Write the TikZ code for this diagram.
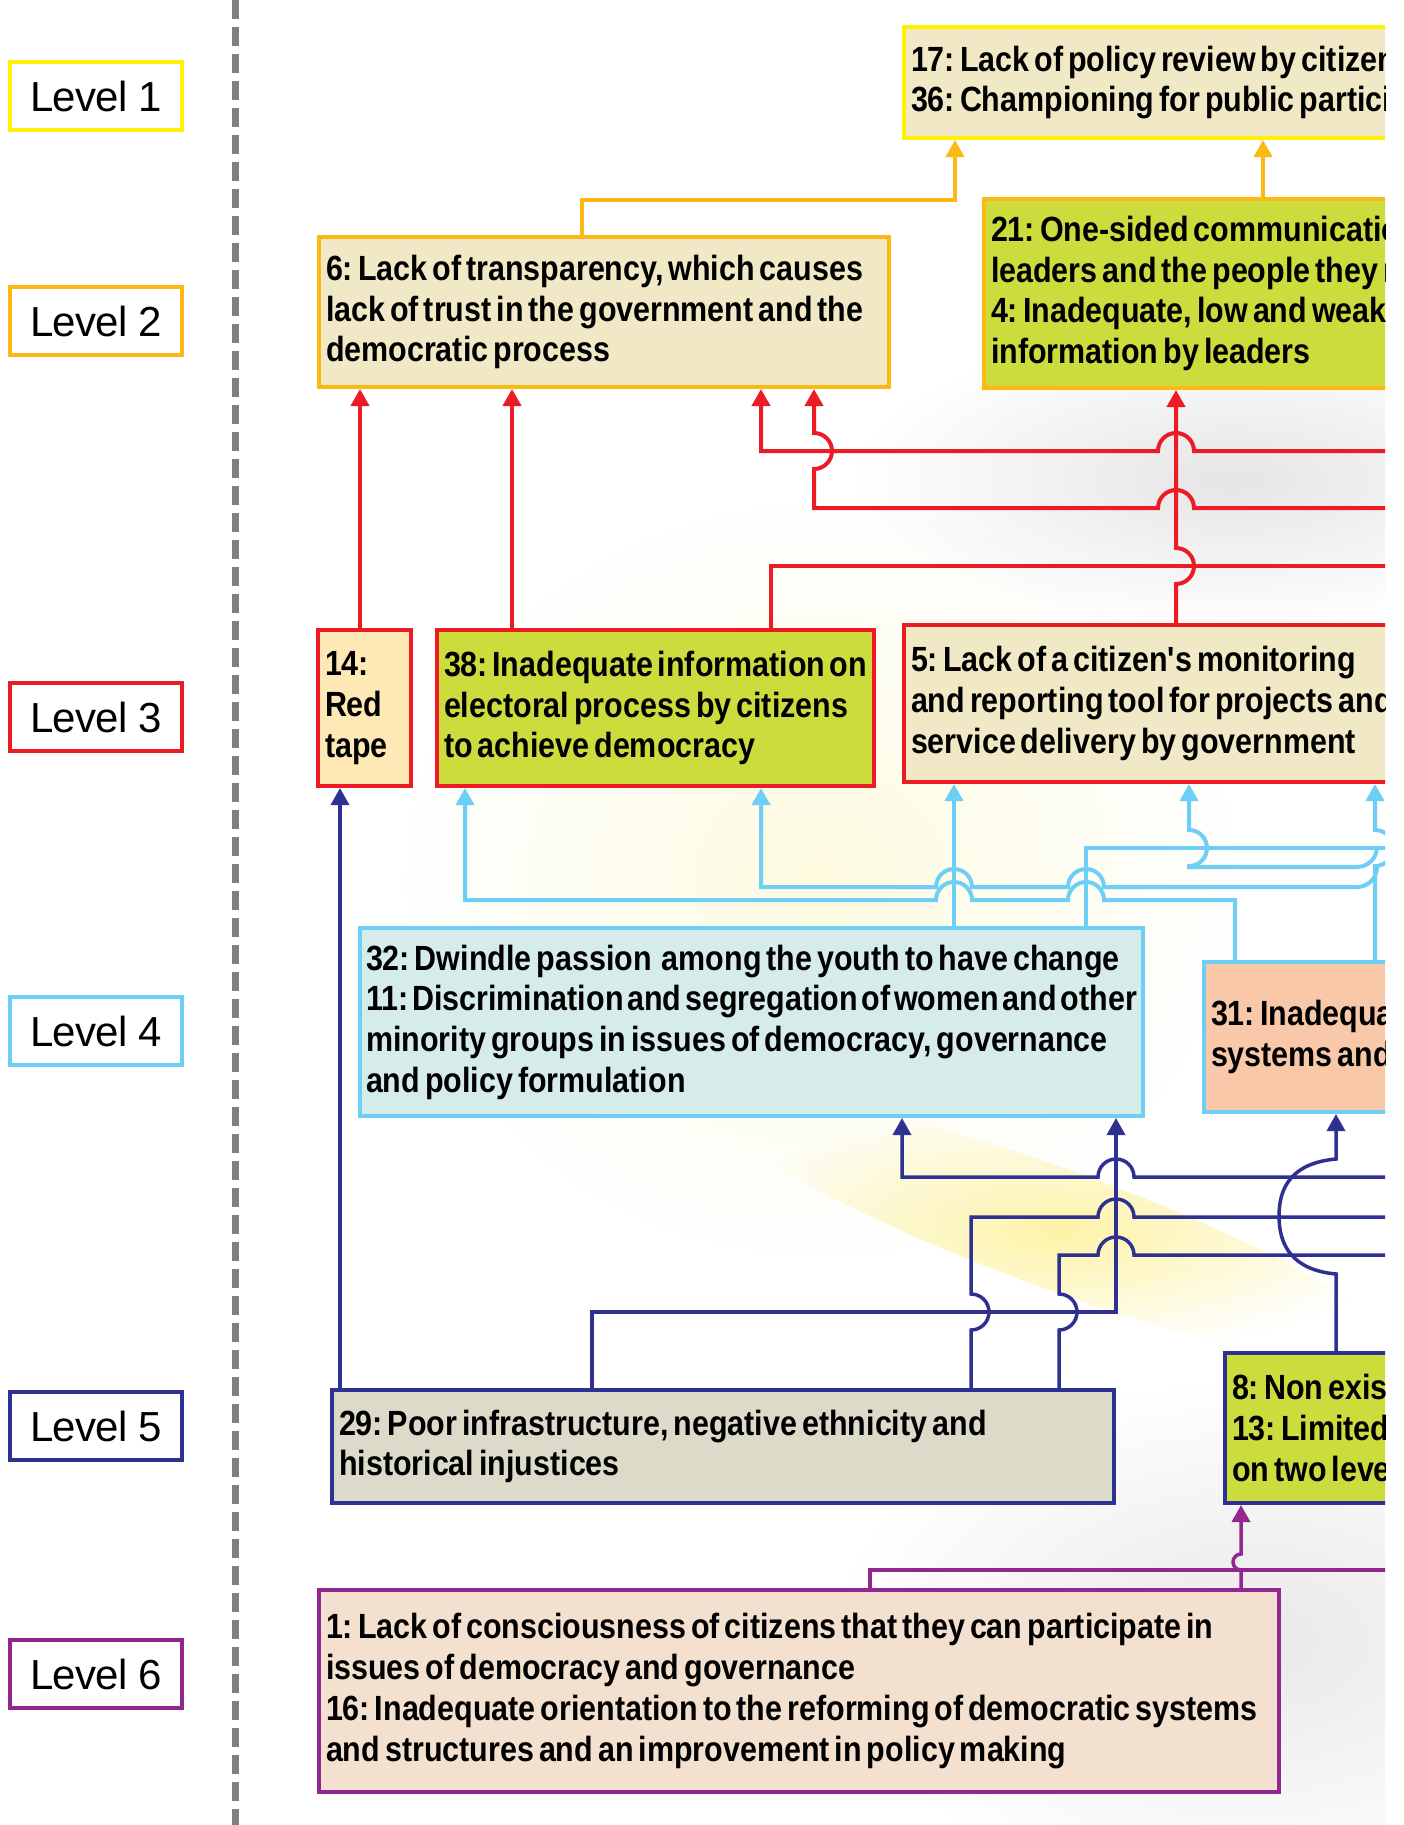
\documentclass[tikz,border=0pt]{standalone}
\usepackage{fontspec}
\setmainfont{Liberation Sans}
\newfontfamily\boxfam[FakeStretch=0.87]{Liberation Sans}
\newfontfamily\lvlfam[LetterSpace=-2]{Liberation Sans}
\usetikzlibrary{arrows.meta,fadings}
\definecolor{cyel}{HTML}{FFF200}
\definecolor{corg}{HTML}{FDB913}
\definecolor{cred}{HTML}{ED1C24}
\definecolor{cblu}{HTML}{6DCFF6}
\definecolor{cnav}{HTML}{2E3192}
\definecolor{cpur}{HTML}{92278F}
\definecolor{fbeige}{HTML}{F1E9C5}
\definecolor{fgreen}{HTML}{CCDC3C}
\definecolor{fpale}{HTML}{FDE8B6}
\definecolor{fcyan}{HTML}{D5ECEB}
\definecolor{fsalm}{HTML}{F8C8A8}
\definecolor{fgray}{HTML}{DCDAC8}
\definecolor{fpeach}{HTML}{F4E0CF}
\newcommand\boxtxt{\boxfam\bfseries\fontsize{35}{40.7}\selectfont\frenchspacing\hyphenpenalty=10000\relax}
\newcommand\tsp{\spaceskip=5pt plus 1pt minus 2.8pt\xspaceskip=5pt plus 1pt minus 2.8pt\relax}
\newcommand\lvltxt{\lvlfam\fontsize{42}{42}\selectfont}
\tikzfading[name=fuzzyc, inner color=transparent!0, outer color=transparent!100]
\tikzset{
  cbox/.style={draw, line width=4pt, rectangle, anchor=north west, inner xsep=7pt,
    inner ysep=0pt, align=left, font=\boxtxt},
  lvl/.style={draw, line width=4pt, rectangle, minimum width=172pt, minimum height=68pt,
    inner sep=0pt, font=\lvltxt, fill=white},
  conn/.style={line width=4pt, line join=miter},
  redc/.style={conn, draw=cred},
  orc/.style={conn, draw=corg},
  bluc/.style={conn, draw=cblu},
  navc/.style={conn, line width=3.5pt, draw=cnav},
  purc/.style={conn, line width=3.5pt, draw=cpur},
}
\begin{document}
\begin{tikzpicture}[x=1pt, y=-1pt, >={Triangle[width=18pt,length=17pt]}]
\useasboundingbox (0,0) rectangle (1403,1825);
\fill[white] (0,0) rectangle (1403,1825);

\begin{scope}
\clip (0,0) rectangle (1385,1825);
% background texture
\fill[yellow!80!orange, opacity=0.12, path fading=fuzzyc] (820,880) ellipse [x radius=420, y radius=380];
\fill[yellow!80!orange, opacity=0.35, path fading=fuzzyc, rotate around={-20:(1060,1230)}] (1060,1230) ellipse [x radius=360, y radius=60];
\fill[black, opacity=0.10, path fading=fuzzyc] (1230,480) ellipse [x radius=380, y radius=150];
\fill[black, opacity=0.09, path fading=fuzzyc] (1250,1640) ellipse [x radius=420, y radius=260];

% boxes
\node[cbox, draw=cyel, fill=fbeige, minimum width=694, minimum height=111, text width=680] (b17) at (902,25)
  {\tsp 17: Lack of policy review by citizen\\36: Championing for public particip};
\node[cbox, draw=corg, fill=fbeige, minimum width=570, minimum height=150, text width=556] (b6) at (317,235)
  {\tsp 6: Lack of transparency, which causes\\lack of trust in the government and the\\democratic process};
\node[cbox, draw=corg, fill=fgreen, minimum width=614, minimum height=189, text width=600] (b21) at (982,197)
  {\tsp 21: One-sided communicatio\\leaders and the people they r\\4: Inadequate, low and weak\\information by leaders};
\node[cbox, draw=cred, fill=fpale, minimum width=93, minimum height=156, text width=79] (b14) at (316,628)
  {\tsp 14:\\Red\\tape};
\node[cbox, draw=cred, fill=fgreen, minimum width=437, minimum height=156, text width=423] (b38) at (435,628)
  {\tsp 38: Inadequate information on\\electoral process by citizens\\to achieve democracy};
\node[cbox, draw=cred, fill=fbeige, minimum width=694, minimum height=157, text width=680] (b5) at (902,623)
  {\tsp 5: Lack of a citizen's monitoring\\and reporting tool for projects and\\service delivery by government};
\node[cbox, draw=cblu, fill=fcyan, minimum width=783, minimum height=188, inner xsep=6pt, text width=771] (b32) at (358,926)
  {\tsp 32: Dwindle passion\hspace{10pt}among the youth to have change\\11: Discrimination and segregation of women and other\\minority groups in issues of democracy, governance\\and policy formulation};
\node[cbox, draw=cblu, fill=fsalm, minimum width=394, minimum height=150, text width=380] (b31) at (1202,960)
  {\tsp 31: Inadequa\\systems and};
\node[cbox, draw=cnav, fill=fgray, minimum width=782, minimum height=113, text width=768] (b29) at (330,1388)
  {\tsp 29: Poor infrastructure, negative ethnicity and\\historical injustices};
\node[cbox, draw=cnav, fill=fgreen, minimum width=373, minimum height=150, text width=359] (b8) at (1223,1351)
  {\tsp 8: Non exis\\13: Limited\\on two leve};
\node[cbox, draw=cpur, fill=fpeach, minimum width=960, minimum height=202, text width=946] (b1) at (317,1588)
  {\tsp 1: Lack of consciousness of citizens that they can participate in\\issues of democracy and governance\\16: Inadequate orientation to the reforming of democratic systems\\and structures and an improvement in policy making};

% free ends beyond the cut edge
\coordinate (eR3) at (1400,451);
\coordinate (eR4) at (1400,508);
\coordinate (eR5) at (1400,566);
\coordinate (eC4) at (1400,848);
\coordinate (c2s) at (1377,867);
\coordinate (c3s) at (1377,847);
\coordinate (eN2) at (1400,1177);
\coordinate (eN3) at (1400,1217);
\coordinate (eN4) at (1400,1255);
\coordinate (eP1) at (1400,1570);

% orange
\draw[orc,->] (582,0 |- b6.north) -- (582,200) -- (955,200) -- (955,0 |- b17.south);
\draw[orc,->] (1263,0 |- b21.north) -- (1263,0 |- b17.south);

% red
\draw[redc,->] (360,0 |- b14.north) -- (360,0 |- b6.south);
\draw[redc,->] (512,0 |- b38.north) -- (512,0 |- b6.south);
\draw[redc,->] (eR3) -- (1194,451) arc[start angle=0,end angle=-180,radius=18] -- (761,451) -- (761,0 |- b6.south);
\draw[redc,->] (eR4) -- (1194,508) arc[start angle=0,end angle=-180,radius=18] -- (814,508) -- (814,469)
  arc[start angle=90,end angle=-90,radius=18] -- (814,0 |- b6.south);
\draw[redc] (771,0 |- b38.north) -- (771,566) -- (eR5);
\draw[redc,->] (1176,0 |- b5.north) -- (1176,584) arc[start angle=90,end angle=-90,radius=18] -- (1176,0 |- b21.south);

% light blue
\draw[bluc,->] (1235,0 |- b31.north) -- (1235,900) -- (1104,900) arc[start angle=0,end angle=-180,radius=18]
  -- (972,900) arc[start angle=0,end angle=-180,radius=18] -- (465,900) -- (465,0 |- b38.south);
\draw[bluc,->] (c2s) arc[start angle=0,end angle=90,radius=20] -- (1104,887) arc[start angle=0,end angle=-180,radius=18]
  -- (972,887) arc[start angle=0,end angle=-180,radius=18] -- (761,887) -- (761,0 |- b38.south);
\draw[bluc,->] (c3s) arc[start angle=0,end angle=90,radius=20] -- (1189,867) -- (1189,866)
  arc[start angle=90,end angle=-90,radius=18] -- (1189,0 |- b5.south);
\draw[bluc] (1086,0 |- b32.north) -- (1086,848) -- (eC4);
\draw[bluc,->] (954,0 |- b32.north) -- (954,0 |- b5.south);
\draw[bluc,->] (1375,0 |- b31.north) -- (1375,866) arc[start angle=90,end angle=-90,radius=18] -- (1375,0 |- b5.south);

% navy
\draw[navc,->] (340,0 |- b29.north) -- (340,0 |- b14.south);
\draw[navc,->] (eN2) -- (1134,1177) arc[start angle=0,end angle=-180,radius=18] -- (902,1177) -- (902,0 |- b32.south);
\draw[navc] (971,0 |- b29.north) -- (971,1330) arc[start angle=90,end angle=-90,radius=18] -- (971,1217)
  -- (1098,1217) arc[start angle=180,end angle=360,radius=18] -- (eN3);
\draw[navc] (1059,0 |- b29.north) -- (1059,1330) arc[start angle=90,end angle=-90,radius=18] -- (1059,1255)
  -- (1098,1255) arc[start angle=180,end angle=360,radius=18] -- (eN4);
\draw[navc,->] (592,0 |- b29.north) -- (592,1312) -- (1116,1312) -- (1116,0 |- b32.south);
\draw[navc,->] (1336,0 |- b8.north) -- (1336,1274) .. controls (1292,1270) and (1279,1245) .. (1279,1216)
  .. controls (1279,1187) and (1292,1163) .. (1336,1159) -- (1336,0 |- b31.south);

% purple
\draw[purc] (870,0 |- b1.north) -- (870,1570) -- (eP1);
\draw[purc,->] (1241,0 |- b1.north) -- (1241,1570) arc[start angle=90,end angle=270,radius=8] -- (1241,0 |- b8.south);
\end{scope}

% divider
\draw[line width=7pt, draw=black!50, dash pattern=on 19pt off 8pt] (235,0) -- (235,1825);

% level labels
\node[lvl, draw=cyel] (l1) at (96,96) {Level 1};
\node[lvl, draw=corg] (l2) at (96,321) {Level 2};
\node[lvl, draw=cred] (l3) at (96,717) {Level 3};
\node[lvl, draw=cblu] (l4) at (96,1031) {Level 4};
\node[lvl, draw=cnav] (l5) at (96,1426) {Level 5};
\node[lvl, draw=cpur] (l6) at (96,1674) {Level 6};
\end{tikzpicture}
\end{document}
